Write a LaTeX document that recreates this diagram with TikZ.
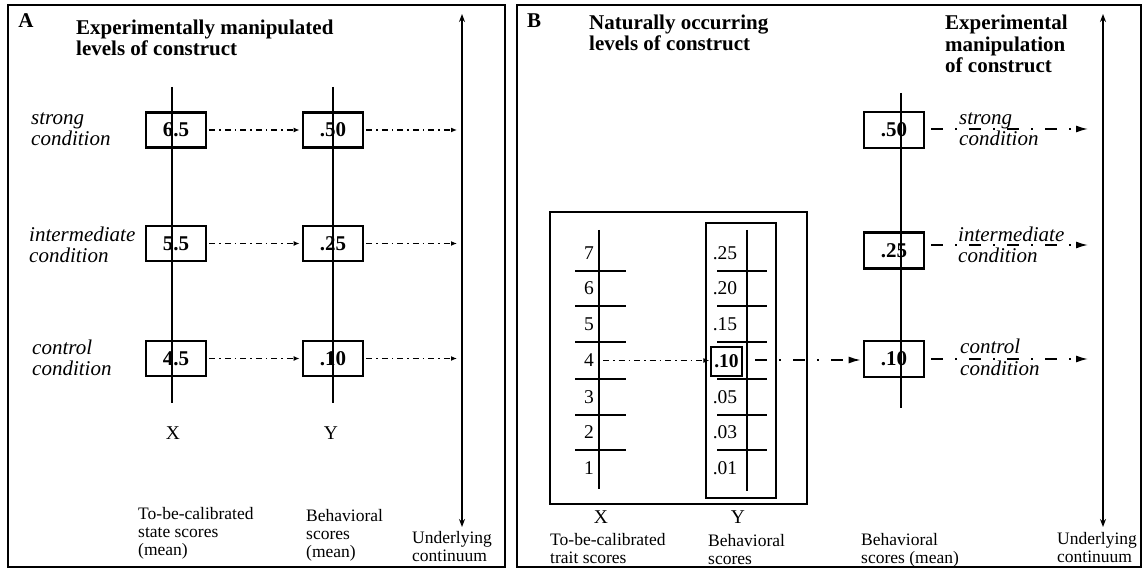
\documentclass[tikz,border=0pt]{standalone}
\usepackage{fontspec}
\setmainfont{Liberation Serif}
\usetikzlibrary{arrows.meta}
\begin{document}
\begin{tikzpicture}[x=1pt,y=-1pt,
  frame/.style={line width=2.5pt},
  valbox/.style={draw, line width=2.8pt, minimum width=60pt, minimum height=35pt, inner sep=0pt, font=\fontsize{21}{22}\selectfont\bfseries},
  smallbox/.style={draw, line width=1.4pt, minimum width=31pt, minimum height=29pt, inner sep=0pt, font=\fontsize{19.5}{20}\selectfont\bfseries},
  scaleline/.style={line width=2pt},
  tick/.style={line width=2.8pt},
  thinrect/.style={line width=1.4pt},
  dda/.style={line width=1.3pt, dash pattern=on 6pt off 4pt on 1.5pt off 4pt, -{Latex[length=6pt,width=5pt]}},
  ddb/.style={line width=1.5pt, dash pattern=on 12pt off 12pt on 2pt off 12pt, -{Latex[length=12pt,width=7pt]}},
  cont/.style={line width=2pt, {Stealth[length=8pt,width=6pt]}-{Stealth[length=8pt,width=6pt]}},
  cond/.style={font=\fontsize{21}{21.5}\selectfont\itshape, align=left, anchor=west, inner sep=0pt},
  ttl/.style={font=\fontsize{21}{21.5}\selectfont\bfseries, align=left, anchor=west, inner sep=0pt},
  lab/.style={font=\fontsize{17.5}{18}\selectfont, align=left, anchor=west, inner sep=0pt},
  axislab/.style={font=\fontsize{19.5}{20}\selectfont, inner sep=0pt},
  num/.style={font=\fontsize{19.5}{20}\selectfont, inner sep=0pt},
  letter/.style={font=\fontsize{21}{22}\selectfont\bfseries, inner sep=0pt}
]
\useasboundingbox (0,0) rectangle (1144,569);

% ---------------- Panel A ----------------
\draw[frame] (8,5) rectangle (505,567);
\node[letter] (A) at (26,21) {A};
\node[ttl] (titleA) at (76,38) {Experimentally manipulated\\levels of construct};

\node[valbox] (x1) at (176,130) {6.5};
\node[valbox] (x2) at (176,243.5) {5.5};
\node[valbox] (x3) at (176,358.5) {4.5};
\node[valbox] (y1) at (333,130) {.50};
\node[valbox] (y2) at (333,243.5) {.25};
\node[valbox] (y3) at (333,358.5) {.10};

\coordinate (xtopA) at (172,87);
\coordinate (xbotA) at (172,403);
\coordinate (ytopA) at (333,87);
\coordinate (ybotA) at (333,403);
\draw[scaleline] (xtopA) -- (xbotA);
\draw[scaleline] (ytopA) -- (ybotA);

\node[cond] (sA) at (31,129) {strong\\condition};
\node[cond] (iA) at (29,245) {intermediate\\condition};
\node[cond] (cA) at (32,358) {control\\condition};

\coordinate (e1) at (457,130);
\coordinate (e2) at (457,243.5);
\coordinate (e3) at (457,358.5);
\draw[dda] ([xshift=2pt]x1.east) -- ([xshift=-2pt]y1.west);
\draw[dda] ([xshift=2pt]x2.east) -- ([xshift=-2pt]y2.west);
\draw[dda] ([xshift=2pt]x3.east) -- ([xshift=-2pt]y3.west);
\draw[dda] ([xshift=2pt]y1.east) -- (e1);
\draw[dda] ([xshift=2pt]y2.east) -- (e2);
\draw[dda] ([xshift=2pt]y3.east) -- (e3);

\coordinate (ctopA) at (462,14);
\coordinate (cbotA) at (462,527);
\draw[cont] (ctopA) -- (cbotA);

\node[axislab] (XA) at (173,433) {X};
\node[axislab] (YA) at (331,433) {Y};
\node[lab] (lxA) at (138,533) {To-be-calibrated\\state scores\\(mean)};
\node[lab] (lyA) at (306,535) {Behavioral\\scores\\(mean)};
\node[lab] (lcA) at (412,547) {Underlying\\continuum};

% ---------------- Panel B ----------------
\draw[frame] (517,5) rectangle (1141,567);
\node[letter] (B) at (534,21) {B};
\node[ttl] (titleB1) at (589,33) {Naturally occurring\\levels of construct};
\node[ttl] (titleB2) at (945,44) {Experimental\\manipulation\\of construct};

\draw[thinrect] (550,212) rectangle (807,504);
\draw[thinrect] (706,223) rectangle (776,498);

\coordinate (xtopB) at (599,230);
\coordinate (xbotB) at (599,489);
\coordinate (ytopB) at (747,230);
\coordinate (ybotB) at (747,491);
\draw[scaleline] (xtopB) -- (xbotB);
\draw[scaleline] (ytopB) -- (ybotB);

\foreach \t in {271,306,342,379,415,450}{
  \draw[tick] (575,\t) -- (626,\t);
  \draw[tick] (717,\t) -- (767,\t);
}

\node[num] (n7) at (589,253) {7};
\node[num] (n6) at (589,288.5) {6};
\node[num] (n5) at (589,324) {5};
\node[num] (n4) at (589,360.5) {4};
\node[num] (n3) at (589,397) {3};
\node[num] (n2) at (589,432.5) {2};
\node[num] (n1) at (589,468) {1};

\node[num] (v25) at (725,253) {.25};
\node[num] (v20) at (725,288.5) {.20};
\node[num] (v15) at (725,324) {.15};
\node[smallbox] (v10) at (726.5,361.5) {.10};
\node[num] (v05) at (725,397) {.05};
\node[num] (v03) at (725,432.5) {.03};
\node[num] (v01) at (725,468) {.01};

\node[valbox, minimum height=36pt] (b1) at (894,130) {.50};
\node[valbox, minimum height=36pt] (b2) at (894,250.5) {.25};
\node[valbox, minimum height=36pt] (b3) at (894,359) {.10};
\coordinate (btop) at (901,93);
\coordinate (bbot) at (901,408);
\draw[scaleline] (btop) -- (bbot);

\coordinate (s4) at (603,360.5);
\draw[dda] (s4) -- ([xshift=-1pt]v10.west |- s4);
\coordinate (s10) at (755,360);
\draw[ddb] (s10) -- ([xshift=-2pt]b3.west |- s10);

\coordinate (f1) at (1088,129);
\coordinate (f2) at (1088,245);
\coordinate (f3) at (1088,359);
\draw[ddb] ([xshift=6pt]b1.east |- f1) -- (f1);
\draw[ddb] ([xshift=6pt]b2.east |- f2) -- (f2);
\draw[ddb] ([xshift=6pt]b3.east |- f3) -- (f3);

\node[cond] (sB) at (959,129) {strong\\condition};
\node[cond] (iB) at (958,245) {intermediate\\condition};
\node[cond] (cB) at (960,357.5) {control\\condition};

\coordinate (ctopB) at (1103,14);
\coordinate (cbotB) at (1103,527);
\draw[cont] (ctopB) -- (cbotB);

\node[axislab] (XB) at (601,517) {X};
\node[axislab] (YB) at (738,517) {Y};
\node[lab] (lxB) at (550,549) {To-be-calibrated\\trait scores};
\node[lab] (lyB) at (708,550) {Behavioral\\scores};
\node[lab] (lmB) at (861,550) {Behavioral\\scores (mean)};
\node[lab] (lcB) at (1057,548) {Underlying\\continuum};
\end{tikzpicture}
\end{document}
